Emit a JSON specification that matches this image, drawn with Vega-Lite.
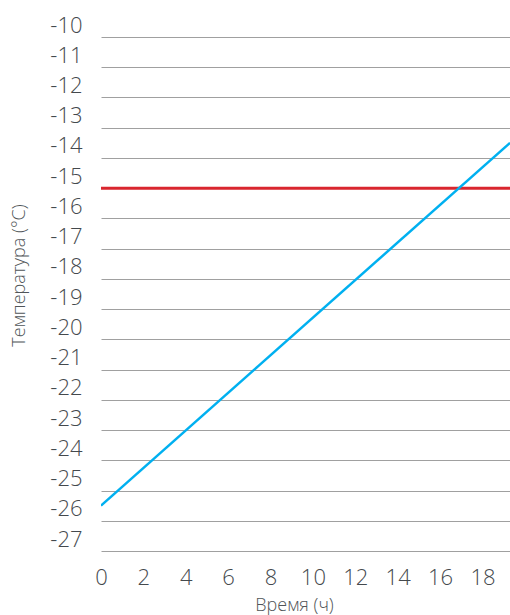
{
  "$schema": "https://vega.github.io/schema/vega-lite/v6.json",
  "autosize": {"type": "none"},
  "width": 409,
  "height": 514,
  "padding": {"left": 101, "top": 37, "right": 0, "bottom": 64},
  "background": "white",
  "config": {
    "view": {"stroke": null},
    "font": "Open Sans"
  },
  "datasets": {
    "curve": [
      {"t": 0, "temp": -25.5},
      {"t": 19.3, "temp": -13.5}
    ],
    "threshold": [
      {"t": 0, "temp": -15},
      {"t": 19.3, "temp": -15}
    ]
  },
  "encoding": {
    "x": {"field": "t", "type": "quantitative",
      "scale": {"domain": [0, 19.3], "nice": false, "zero": false},
      "axis": {
        "title": "Время (ч)",
        "values": [0, 2, 4, 6, 8, 10, 12, 14, 16, 18],
        "grid": false, "domain": false, "ticks": false,
        "labelFontSize": 22, "labelColor": "#44494d", "labelFontWeight": 300,
        "labelPadding": 16, "labelFlush": false, "labelOverlap": false,
        "titleFontSize": 18, "titleFontWeight": 300, "titleColor": "#505558",
        "titlePadding": 8, "titleX": 193
      }
    },
    "y": {"field": "temp", "type": "quantitative",
      "scale": {"domain": [-27, -10], "nice": false, "zero": false},
      "axis": {
        "title": "Температура (°C)",
        "values": [-27, -26, -25, -24, -23, -22, -21, -20, -19, -18, -17, -16, -15, -14, -13, -12, -11, -10],
        "labelExpr": "toString(datum.value)",
        "grid": true, "gridColor": "#a0a0a0", "gridWidth": 1, "gridOpacity": 1,
        "domain": false, "ticks": false,
        "labelFontSize": 22, "labelColor": "#44494d", "labelFontWeight": 300,
        "labelBaseline": "bottom", "labelAlign": "right", "labelPadding": 19,
        "labelFlush": false, "labelOverlap": false,
        "titleFontSize": 18, "titleFontWeight": 300, "titleColor": "#505558",
        "titlePadding": 21, "titleY": 238
      }
    }
  },
  "layer": [
    {
      "data": {"name": "threshold"},
      "mark": {"type": "line", "color": "#d9262e", "strokeWidth": 3, "clip": true}
    },
    {
      "data": {"name": "curve"},
      "mark": {"type": "line", "color": "#00b0f0", "strokeWidth": 2.5, "clip": true}
    }
  ]
}
